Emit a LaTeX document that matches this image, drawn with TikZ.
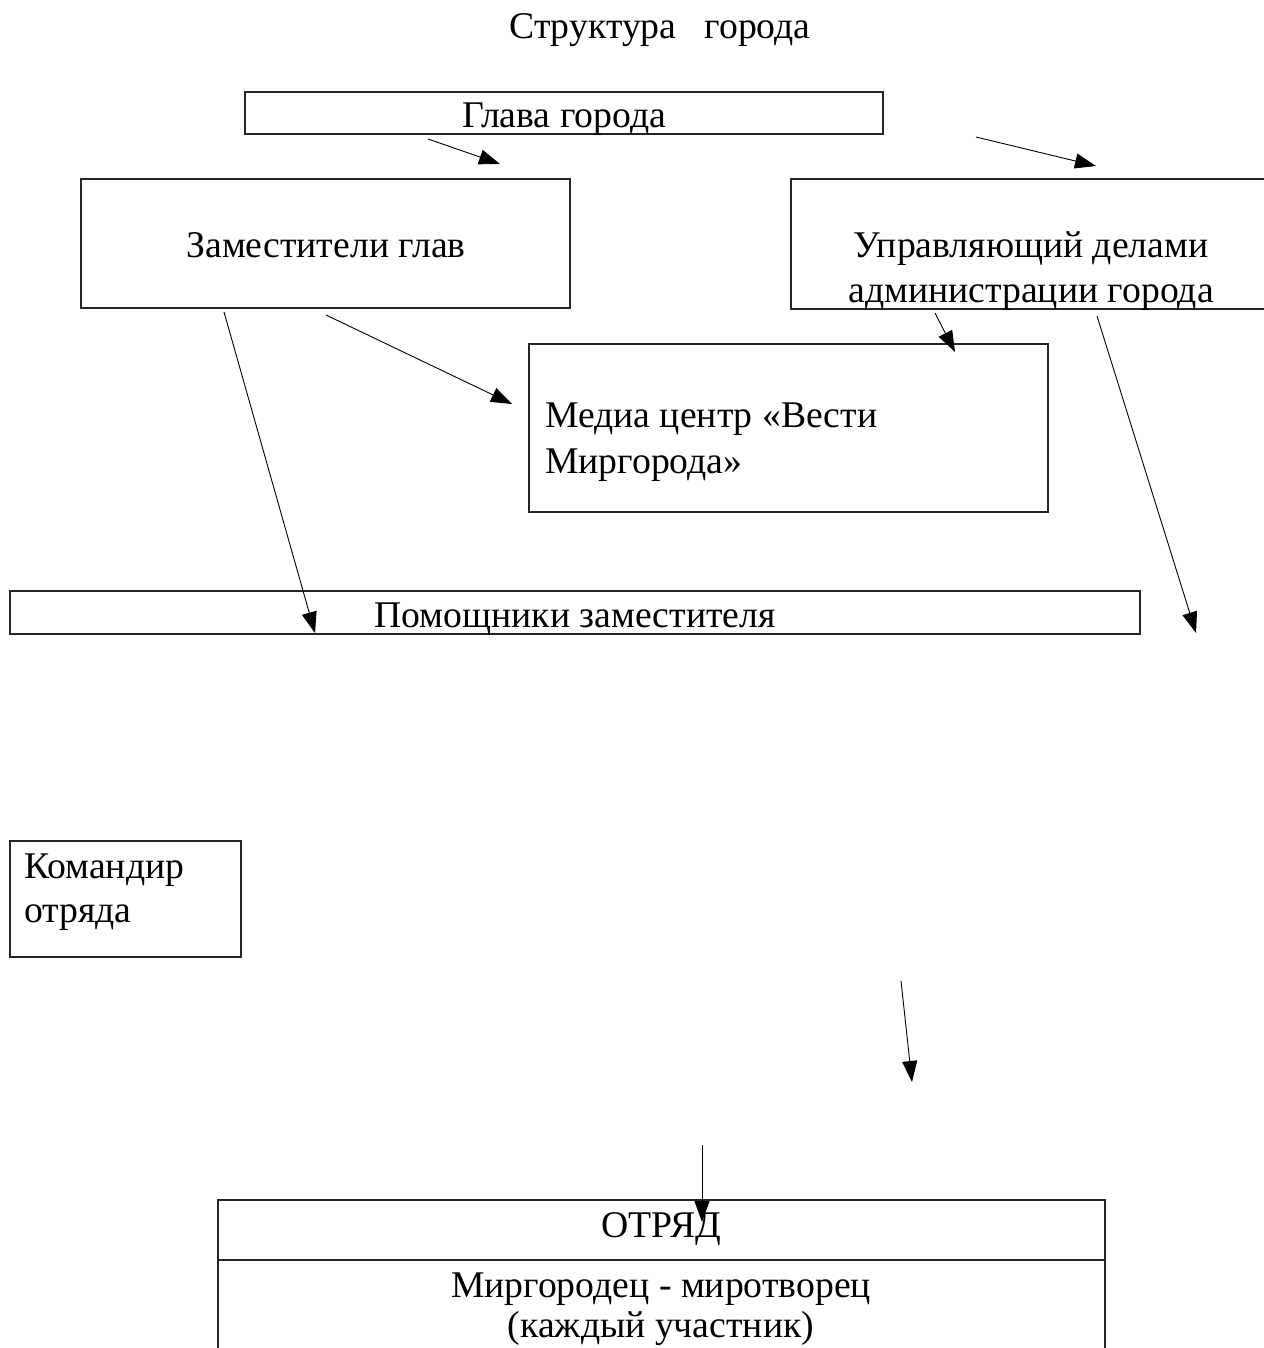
\documentclass[tikz,border=0pt]{standalone}
\usepackage{fontspec}
\setmainfont{Liberation Serif}
\usetikzlibrary{arrows.meta}
\begin{document}
\begin{tikzpicture}[x=1pt,y=-1pt,
  boxst/.style={draw=black!85, line width=1.3pt, inner sep=0pt},
  txt/.style={anchor=base, inner sep=0pt, font=\fontsize{37.7}{44}\selectfont},
  txtl/.style={anchor=base west, inner sep=0pt, font=\fontsize{37.7}{44}\selectfont},
  conn/.style={draw=black, line width=0.9pt, -{Triangle[length=21pt,width=15pt]}}]
\useasboundingbox[fill=white] (0,0) rectangle (1263,1348);

% title
\node[txt] (title) at (660,39) {Структура \ \ города};

% boxes
\node[boxst, minimum width=638pt, minimum height=42pt] (glava) at (564,113) {};
\node[boxst, minimum width=489pt, minimum height=129pt] (zam) at (325.5,243.5) {};
\node[boxst, minimum width=490pt, minimum height=130pt] (upr) at (1036,244) {};
\node[boxst, minimum width=519pt, minimum height=168pt] (media) at (788.5,428) {};
\node[boxst, minimum width=1130pt, minimum height=43pt] (pom) at (575,612.5) {};
\node[boxst, minimum width=231pt, minimum height=116pt] (kom) at (125.5,899) {};
\node[boxst, minimum width=887pt, minimum height=60pt] (otr) at (661.5,1230) {};
\node[boxst, minimum width=887pt, minimum height=120pt] (mir) at (661.5,1320) {};

% texts
\node[txt] (tglava) at (564,128) {Глава города};
\node[txt] (tzam) at (326,258) {Заместители глав};
\node[txt] (tupr1) at (1031,258) {Управляющий делами};
\node[txt] (tupr2) at (1031,302) {администрации города};
\node[txtl] (tmed1) at (545,427) {Медиа центр «Вести};
\node[txtl] (tmed2) at (545,473) {Миргорода»};
\node[txt] (tpom) at (575,627) {Помощники заместителя};
\node[txtl] (tkom1) at (24,878) {Командир};
\node[txtl] (tkom2) at (24,922) {отряда};
\node[txt] (totr) at (661,1237) {ОТРЯД};
\node[txt] (tmir1) at (661,1297) {Миргородец - миротворец};
\node[txt] (tmir2) at (661,1337) {(каждый участник)};

% connector end points
\coordinate (a1s) at (428,139);  \coordinate (a1e) at (500,164);
\coordinate (a2s) at (976,137);  \coordinate (a2e) at (1096,166);
\coordinate (a3s) at (935,313);  \coordinate (a3e) at (955,352);
\coordinate (a4s) at (326,315);  \coordinate (a4e) at (512,404);
\coordinate (a5s) at (224,312);  \coordinate (a5e) at (315,633);
\coordinate (a6s) at (1097,316); \coordinate (a6e) at (1196,633);
\coordinate (a7s) at (901,981);  \coordinate (a7e) at (912,1082);
\coordinate (a8s) at (702,1145); \coordinate (a8e) at (702,1222);

\draw[conn] (a1s) -- (a1e);
\draw[conn] (a2s) -- (a2e);
\draw[conn] (a3s) -- (a3e);
\draw[conn] (a4s) -- (a4e);
\draw[conn] (a5s) -- (a5e);
\draw[conn] (a6s) -- (a6e);
\draw[conn] (a7s) -- (a7e);
\draw[conn] (a8s) -- (a8e);
\end{tikzpicture}
\end{document}
